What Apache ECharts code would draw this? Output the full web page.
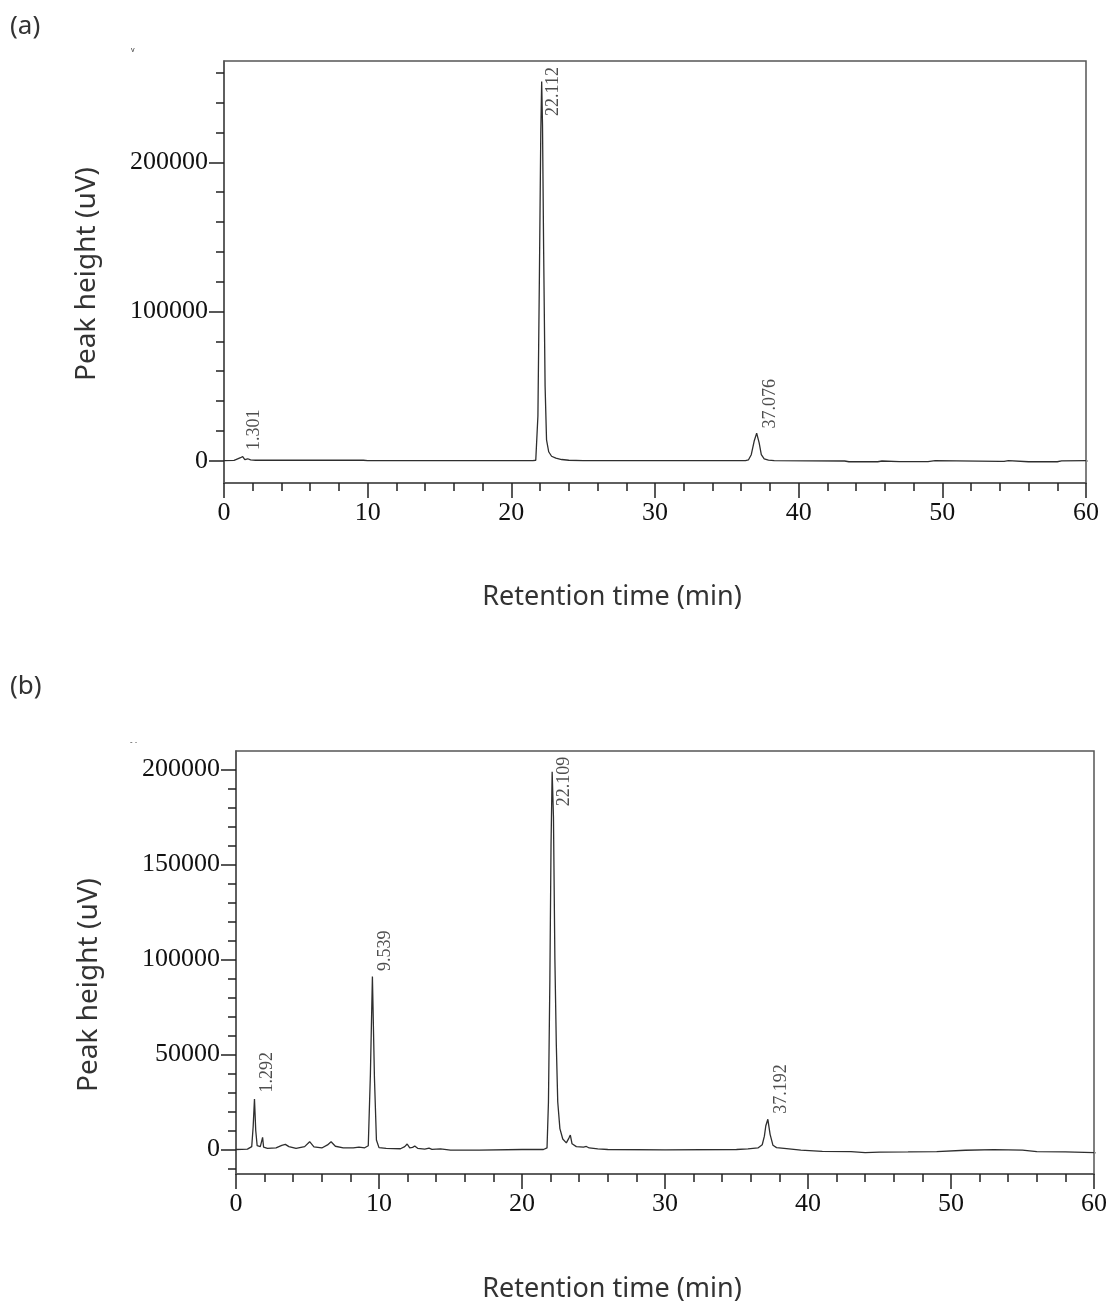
<!DOCTYPE html>
<html><head><meta charset="utf-8">
<script src="https://cdn.jsdelivr.net/npm/echarts@6/dist/echarts.min.js"></script>
<style>html,body{margin:0;padding:0;background:#fff}#c{width:1111px;height:1305px}</style>
</head><body><div id="c"></div>
<script>
// ---------- Panel (a) ----------
const timesA = [0, 0.7, 0.95, 1.15, 1.3, 1.45, 1.65, 1.85, 2.2, 5,
  9.7, 10, 17, 21.5, 21.7, 21.85, 21.95, 22.05, 22.112, 22.17,
  22.25, 22.35, 22.45, 22.6, 22.8, 23.1, 23.5, 24, 25, 30,
  36.3, 36.5, 36.7, 36.9, 37.076, 37.25, 37.4, 37.6, 37.9, 38.3,
  43.2, 43.5, 45.5, 45.8, 47, 49, 49.5, 54, 54.3, 54.6,
  56, 58, 58.3, 60];
const signalA = [0, 200, 1200, 2000, 2800, 700, 1300, 500, 300, 300,
  300, 0, 0, 0, 300, 30000, 120000, 220000, 254300, 225000,
  140000, 50000, 14000, 6000, 3000, 1700, 800, 300, 0, 0,
  0, 500, 4000, 13000, 18500, 12000, 4000, 1200, 400, 0,
  -200, -700, -700, -200, -600, -600, 0, -500, -500, 0,
  -700, -700, -100, 0];
const tailTimesA = [60, 61.75];
const tailValuesA = [0, -3400];
const peakTimesA = [1.301, 22.112, 37.076];
const peakHeightsA = [2800, 254300, 18500];
const peakNamesA = ['1.301', '22.112', '37.076'];
const yMajorA = [0, 100000, 200000];
const yMinorA = [20000, 40000, 60000, 80000, 120000, 140000, 160000, 180000, 220000, 240000, 260000];

// ---------- Panel (b) ----------
const timesB = [0, 0.8, 1.1, 1.2, 1.292, 1.38, 1.48, 1.6, 1.7, 1.8, 1.86, 1.93, 2.2,
  2.8, 3.2, 3.45, 3.7, 4.2, 4.8, 5.15, 5.45, 6.0, 6.4, 6.65, 6.95, 7.5, 8.2, 8.6, 9.0, 9.25,
  9.4, 9.539, 9.68, 9.82, 10.0, 10.5, 11.5, 11.8, 11.97, 12.15, 12.35, 12.5, 12.7, 13.2, 13.5, 13.7, 14.3, 15, 17, 20,
  21.5, 21.75, 21.85, 21.95, 22.03, 22.109, 22.2, 22.3, 22.4, 22.5, 22.65, 22.85, 23.1, 23.28, 23.38, 23.5, 23.8, 24.3, 24.5, 24.7, 25.3, 26,
  30, 35, 35.8, 36.5, 36.8, 36.95, 37.05, 37.192, 37.35, 37.55, 37.8, 38.5,
  39.5, 41, 43, 44, 45, 47, 49, 51, 53, 55, 56, 58, 60];
const signalB = [0, 200, 1500, 12000, 26600, 10000, 2000, 2800, 1500, 2500, 6400, 1200, 600,
  900, 2200, 2700, 1500, 600, 1500, 4100, 1400, 800, 2400, 4100, 1700, 900, 800, 1300, 900, 2000,
  40000, 91000, 38000, 5000, 1000, 600, 400, 1500, 2900, 800, 1100, 1800, 600, 200, 700, 100, 300, -300, -300, 0,
  0, 800, 25000, 90000, 160000, 198800, 175000, 100000, 55000, 25000, 11000, 5500, 3500, 6000, 7600, 3000, 1500, 1200, 1600, 800, 300, 0,
  -200, 0, 300, 800, 2500, 7000, 12500, 15900, 8000, 2200, 1000, 500,
  -300, -1000, -1100, -1600, -1400, -1300, -1100, -400, -100, -300, -1100, -1300, -1600];
const tailTimesB = [60, 61.2];
const tailValuesB = [-1600, -3100];
const peakTimesB = [1.292, 9.539, 22.109, 37.192];
const peakHeightsB = [26600, 91000, 198800, 15900];
const peakNamesB = ['1.292', '9.539', '22.109', '37.192'];
const yMajorB = [0, 50000, 100000, 150000, 200000];
const yMinorB = [-10000, 10000, 20000, 30000, 40000, 60000, 70000, 80000, 90000, 110000, 120000, 130000, 140000, 160000, 170000, 180000, 190000];

const xTicks = [0, 10, 20, 30, 40, 50, 60];

// ---------- styles ----------
const SERIF = '"Liberation Serif", "Times New Roman", serif';
const SANS = '"Noto Sans", "Open Sans", sans-serif';
const labelOffsetsA = [[12, -6], [12, 35], [14, -4]];
const labelOffsetsB = [[13.5, -6], [13, -5], [13, 35], [14, -5]];

function pairs(xs, ys) { return xs.map((x, i) => [x, ys[i]]); }

function xAxisFor(g) {
  return {
    gridIndex: g, type: 'value', min: xTicks[0], max: xTicks[xTicks.length - 1], interval: xTicks[1] - xTicks[0],
    axisLine: { show: true, onZero: false, lineStyle: { color: '#555', width: 1.5 } },
    axisTick: { show: true, length: 15, lineStyle: { color: '#222', width: 1.5 } },
    minorTick: { show: true, splitNumber: 5, length: 8, lineStyle: { color: '#222', width: 1.5 } },
    axisLabel: { margin: 17, fontFamily: SERIF, fontSize: 26, color: '#111', formatter: v => String(v) },
    splitLine: { show: false }, minorSplitLine: { show: false }
  };
}
function yAxesFor(g, min, max, majors, minors) {
  return [{
    gridIndex: g, type: 'value', position: 'left', min: min, max: max,
    axisLine: { show: true, onZero: false, lineStyle: { color: '#555', width: 1.5 } },
    axisTick: { show: true, length: 15, customValues: majors, lineStyle: { color: '#222', width: 1.5 } },
    axisLabel: { customValues: majors, margin: 16, fontFamily: SERIF, fontSize: 26, color: '#111', formatter: v => String(v) },
    splitLine: { show: false }
  }, {
    gridIndex: g, type: 'value', position: 'left', offset: 0, min: min, max: max,
    axisLine: { show: false, onZero: false },
    axisTick: { show: true, length: 8, customValues: minors, lineStyle: { color: '#222', width: 1.5 } },
    axisLabel: { show: false },
    splitLine: { show: false }
  }];
}
function peakSeries(xi, yi, times, heights, names, offsets) {
  return {
    type: 'scatter', xAxisIndex: xi, yAxisIndex: yi, symbol: 'circle', symbolSize: 1,
    itemStyle: { color: 'rgba(0,0,0,0)' }, silent: true, clip: false, z: 5,
    data: times.map((t, i) => ({
      value: [t, heights[i]], name: names[i],
      label: { position: offsets[i] }
    })),
    label: {
      show: true, formatter: p => p.name, rotate: 90, align: 'left', verticalAlign: 'middle',
      fontFamily: SERIF, fontSize: 18, color: '#222'
    }
  };
}

const chart = echarts.init(document.getElementById('c'), null, { renderer: 'canvas' });
const yA = yAxesFor(0, -14950, 267990, yMajorA, yMinorA);
const yB = yAxesFor(1, -12900, 209740, yMajorB, yMinorB);
chart.setOption({
  animation: false,
  backgroundColor: '#fff',
  grid: [
    { left: 224, top: 61, width: 862, height: 422, show: true, borderColor: '#555', borderWidth: 1.5, backgroundColor: 'transparent' },
    { left: 236, top: 751, width: 858, height: 423, show: true, borderColor: '#555', borderWidth: 1.5, backgroundColor: 'transparent' }
  ],
  xAxis: [xAxisFor(0), xAxisFor(1)],
  yAxis: [yA[0], yA[1], yB[0], yB[1]],
  series: [
    { type: 'line', xAxisIndex: 0, yAxisIndex: 0, data: pairs(timesA, signalA), symbol: 'none', showSymbol: false,
      lineStyle: { color: '#2e2e2e', width: 1.3 }, z: 3 },
    { type: 'line', xAxisIndex: 0, yAxisIndex: 0, data: pairs(tailTimesA, tailValuesA), symbol: 'none', clip: false,
      lineStyle: { color: '#888', width: 1.3, type: [3, 6] }, z: 3 },
    peakSeries(0, 0, peakTimesA, peakHeightsA, peakNamesA, labelOffsetsA),
    { type: 'line', xAxisIndex: 1, yAxisIndex: 2, data: pairs(timesB, signalB), symbol: 'none', showSymbol: false,
      lineStyle: { color: '#2e2e2e', width: 1.3 }, z: 3 },
    { type: 'line', xAxisIndex: 1, yAxisIndex: 2, data: pairs(tailTimesB, tailValuesB), symbol: 'none', clip: false,
      lineStyle: { color: '#888', width: 1.3, type: [3, 6] }, z: 3 },
    peakSeries(1, 2, peakTimesB, peakHeightsB, peakNamesB, labelOffsetsB)
  ],
  graphic: [
    { type: 'text', x: 10, y: 27, style: { text: '(a)', font: '26px ' + SANS, fill: '#333', textAlign: 'left', textVerticalAlign: 'middle' } },
    { type: 'text', x: 10, y: 687, style: { text: '(b)', font: '26px ' + SANS, fill: '#333', textAlign: 'left', textVerticalAlign: 'middle' } },
    { type: 'text', x: 87, y: 274, rotation: Math.PI / 2, style: { text: 'Peak height (uV)', font: '28px ' + SANS, fill: '#333', textAlign: 'center', textVerticalAlign: 'middle' } },
    { type: 'text', x: 89, y: 985, rotation: Math.PI / 2, style: { text: 'Peak height (uV)', font: '28px ' + SANS, fill: '#333', textAlign: 'center', textVerticalAlign: 'middle' } },
    { type: 'text', x: 612, y: 597, style: { text: 'Retention time (min)', font: '27px ' + SANS, fill: '#333', textAlign: 'center', textVerticalAlign: 'middle' } },
    { type: 'text', x: 612, y: 1289, style: { text: 'Retention time (min)', font: '27px ' + SANS, fill: '#333', textAlign: 'center', textVerticalAlign: 'middle' } },
    { type: 'text', x: 131, y: 50, style: { text: 'v', font: '7px ' + SANS, fill: '#333', textAlign: 'left', textVerticalAlign: 'middle' } },
    { type: 'text', x: 130, y: 743, style: { text: '- -', font: '8px ' + SANS, fill: '#555', textAlign: 'left', textVerticalAlign: 'middle' } }
  ]
});
</script>
</body></html>
